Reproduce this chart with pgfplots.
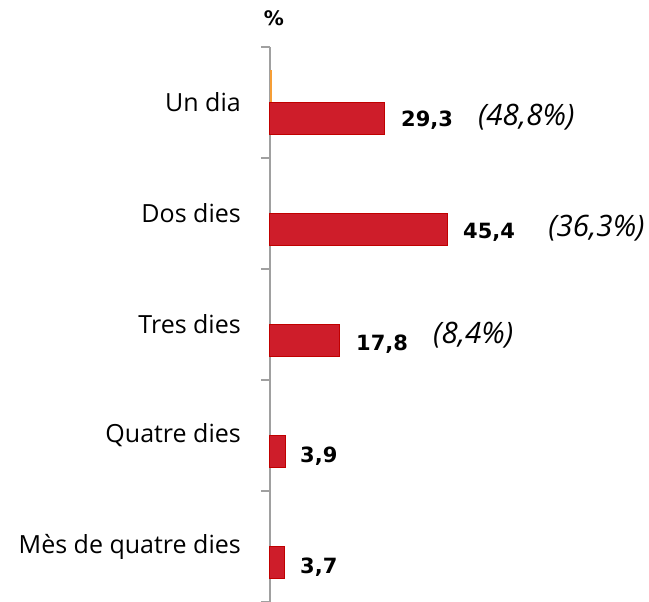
\documentclass[border=0pt]{standalone}
\usepackage{pgfplots}
\pgfplotsset{compat=1.18}
\usepackage{fontspec}
\setmainfont{Open Sans}
\newfontfamily\valfont{DejaVu Sans}
\definecolor{barred}{RGB}{206,29,42}
\definecolor{baredge}{RGB}{192,0,0}
\definecolor{barorange}{RGB}{246,158,54}
\definecolor{axgray}{RGB}{160,160,160}
\begin{document}
\begin{tikzpicture}
\begin{axis}[
  scale only axis,
  width=370.5pt, height=555pt,
  xmin=0, xmax=95,
  ymin=-0.5, ymax=4.5,
  xbar, bar width=32pt,
  axis x line=none,
  axis y line=left,
  axis line style={-, axgray, line width=1.2pt},
  ytick={0,1,2,3,4},
  yticklabels={Mès de quatre dies, Quatre dies, Tres dies, Dos dies, Un dia},
  major tick length=0pt,
  yticklabel style={anchor=east, inner sep=0pt, xshift=-29pt, font=\fontsize{25}{29}\selectfont, text=black},
  extra y ticks={-0.5,0.5,1.5,2.5,3.5,4.5},
  extra y tick labels={},
  extra y tick style={major tick length=9pt, tick align=outside, tick style={axgray, line width=1.2pt}},
  clip=false,
]
\addplot[xbar, bar shift=-16pt, fill=barred, draw=baredge, line width=1pt]
  coordinates {(29.3,4) (45.4,3) (17.8,2) (3.9,1) (3.7,0)};
\addplot[xbar, bar shift=16pt, fill=barorange, draw=none]
  coordinates {(0.5,4)};
\coordinate (O) at (rel axis cs:0,0);
\coordinate (T) at (rel axis cs:0,1);
\begin{scope}[every node/.style={anchor=west, inner sep=0pt}]
\node[font=\valfont\bfseries\fontsize{21}{24}\selectfont] at (axis cs:33.6,3.84) {29,3};
\node[font=\valfont\bfseries\fontsize{21}{24}\selectfont] at (axis cs:49.5,2.83) {45,4};
\node[font=\valfont\bfseries\fontsize{21}{24}\selectfont] at (axis cs:22.05,1.82) {17,8};
\node[font=\valfont\bfseries\fontsize{21}{24}\selectfont] at (axis cs:7.7,0.815) {3,9};
\node[font=\valfont\bfseries\fontsize{21}{24}\selectfont] at (axis cs:7.7,-0.185) {3,7};
\node[font=\itshape\fontsize{29.5}{32}\selectfont] at (axis cs:53.3,3.87) {(48,8\%)};
\node[font=\itshape\fontsize{29.5}{32}\selectfont] at (axis cs:71.3,2.87) {(36,3\%)};
\node[font=\itshape\fontsize{29.5}{32}\selectfont] at (axis cs:41.8,1.90) {(8,4\%)};
\end{scope}
\end{axis}
\node[font=\valfont\bfseries\fontsize{20}{22}\selectfont, inner sep=0pt] at ([xshift=4pt,yshift=29pt]T) {\%};
\pgfresetboundingbox
\path ([xshift=-270pt]O) rectangle ([xshift=379pt,yshift=602pt]O);
\end{tikzpicture}
\end{document}
